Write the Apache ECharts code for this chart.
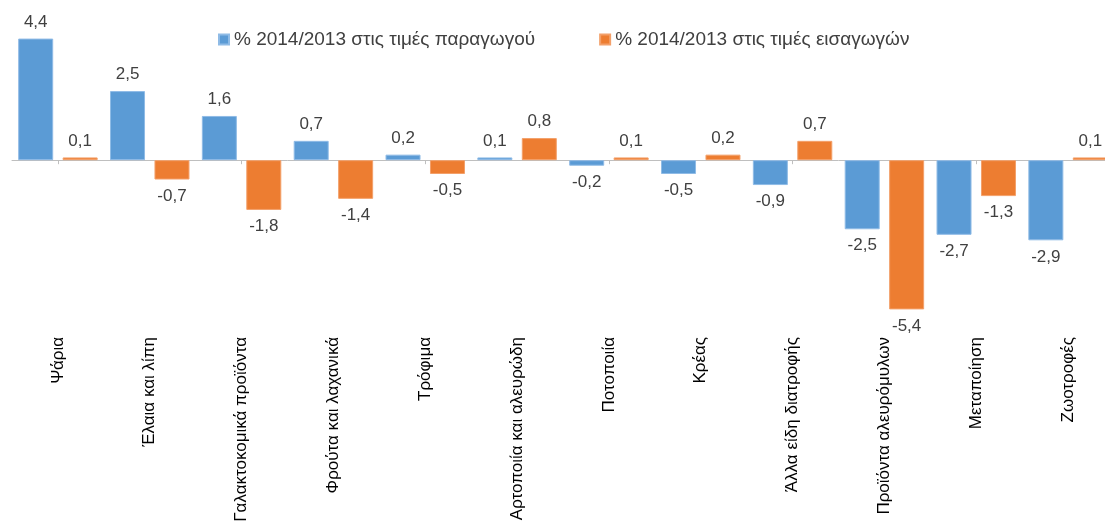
<!DOCTYPE html>
<html>
<head>
<meta charset="utf-8">
<script src="https://cdn.jsdelivr.net/npm/echarts@6/dist/echarts.min.js"></script>
<style>
html,body{margin:0;padding:0;background:#fff;overflow:hidden;}
#chart{width:1114px;height:525px;}
</style>
</head>
<body>
<div id="chart"></div>
<script>
const categories = ["Ψάρια","Έλαια και λίπη","Γαλακτοκομικά προϊόντα","Φρούτα και λαχανικά","Τρόφιμα","Αρτοποιία και αλευρώδη","Ποτοποιία","Κρέας","Άλλα είδη διατροφής","Προϊόντα αλευρόμυλων","Μεταποίηση","Ζωοτροφές"];
const producerPrices = [4.4, 2.5, 1.6, 0.7, 0.2, 0.1, -0.2, -0.5, -0.9, -2.5, -2.7, -2.9];
const importPrices = [0.1, -0.7, -1.8, -1.4, -0.5, 0.8, 0.1, 0.2, 0.7, -5.4, -1.3, 0.1];
const seriesNames = ["% 2014/2013 στις τιμές παραγωγού", "% 2014/2013 στις τιμές εισαγωγών"];

const fontFam = "'Liberation Sans', 'DejaVu Sans', sans-serif";
const chart = echarts.init(document.getElementById('chart'), null, {renderer:'canvas'});

function labelCfg(){
  return {
    show: true,
    position: 'top',
    distance: 8,
    fontFamily: fontFam,
    fontSize: 17,
    color: '#404040',
    formatter: p => String(p.value).replace('.', ',')
  };
}
function mkData(arr){
  return arr.map(v => ({value: v, label: {position: v < 0 ? 'bottom' : 'top'}}));
}

chart.setOption({
  animation: false,
  backgroundColor: '#ffffff',
  legend: {
    left: 213,
    top: 25,
    itemWidth: 10,
    itemHeight: 10,
    itemGap: 64,
    icon: 'rect',
    textStyle: {fontFamily: fontFam, fontSize: 19, color: '#404040'},
    data: seriesNames
  },
  grid: {left: 12, right: 0, top: 22, bottom: 199, containLabel: false},
  xAxis: [
    {
      type: 'category',
      data: categories,
      position: 'bottom',
      axisLine: {onZero: true, lineStyle: {color: '#bfbfbf', width: 1}},
      axisTick: {show: true, alignWithLabel: true, length: 4, lineStyle: {color: '#bfbfbf'}},
      axisLabel: {show: false}
    },
    {
      type: 'category',
      data: categories,
      position: 'bottom',
      axisLine: {show: false},
      axisTick: {show: false},
      axisLabel: {
        show: true,
        rotate: 90,
        interval: 0,
        margin: 11,
        fontFamily: fontFam,
        fontSize: 17,
        color: '#000000'
      }
    }
  ],
  yAxis: {
    type: 'value',
    min: -6,
    max: 5,
    show: false,
    splitLine: {show: false}
  },
  series: [
    {
      name: seriesNames[0],
      type: 'bar',
      xAxisIndex: 0,
      data: mkData(producerPrices),
      barWidth: 35,
      barGap: '27%',
      itemStyle: {color: '#5B9BD5', borderColor: '#8fbbe6', borderWidth: 1},
      label: labelCfg()
    },
    {
      name: seriesNames[1],
      type: 'bar',
      xAxisIndex: 0,
      data: mkData(importPrices),
      barWidth: 35,
      barGap: '27%',
      itemStyle: {color: '#ED7D31', borderColor: '#f3a06a', borderWidth: 1},
      label: labelCfg()
    }
  ]
});
</script>
</body>
</html>
